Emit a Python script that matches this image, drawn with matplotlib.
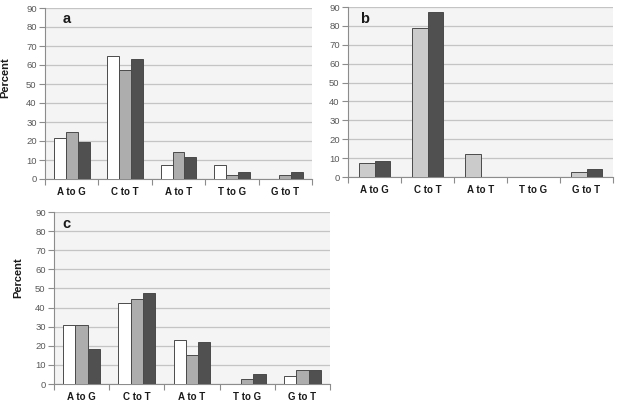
import matplotlib
matplotlib.use("Agg")
import matplotlib.pyplot as plt
import numpy as np

plt.rcParams['font.family'] = ['Liberation Sans', 'DejaVu Sans']

categories = ["A to G", "C to T", "A to T", "T to G", "G to T"]

# Panel a (three series)
a_white = [21.5, 64.5, 7.5, 7.5, 0]
a_gray = [24.5, 57.5, 14, 2.3, 2.3]
a_dark = [19.5, 63, 11.5, 3.5, 3.5]

# Panel b (two series)
b_light = [7.3, 79, 12, 0, 2.8]
b_dark = [8.7, 87.5, 0, 0, 4.3]

# Panel c (three series)
c_white = [31, 42.5, 23, 0, 4.2]
c_gray = [31, 44.5, 15, 2.5, 7.5]
c_dark = [18.5, 47.5, 22, 5.4, 7.5]

yticks = list(range(0, 91, 10))

fig = plt.figure(figsize=(6.18, 4.05), dpi=100)

def style_axes(ax, letter, lx, ly, ylab, ylab_xy):
    ax.set_facecolor('#f4f4f4')
    ax.set_ylim(0, 90)
    ax.set_xlim(-0.5, len(categories) - 0.5)
    ax.set_yticks(yticks)
    ax.yaxis.grid(True, color='#c4c4c4', linewidth=0.9)
    ax.set_axisbelow(True)
    for s in ['top', 'right']:
        ax.spines[s].set_visible(False)
    for s in ['left', 'bottom']:
        ax.spines[s].set_color('#8c8c8c')
        ax.spines[s].set_linewidth(0.8)
    ax.tick_params(axis='y', direction='out', length=4, width=0.8, color='#8c8c8c',
                   labelsize=6.8, labelcolor='#595959', pad=2)
    # category labels
    ax.set_xticks(range(len(categories)))
    ax.set_xticklabels(categories, fontsize=7, fontweight='bold', color='#1a1a1a')
    ax.tick_params(axis='x', which='major', length=0, pad=6)
    ax.set_xticks(np.arange(-0.5, len(categories), 1.0), minor=True)
    ax.tick_params(axis='x', which='minor', direction='out', length=4, width=0.8, color='#8c8c8c')
    ax.text(lx, ly, letter, transform=ax.transAxes, fontsize=10.5, fontweight='bold',
            va='baseline', ha='left', color='#1a1a1a')
    if ylab:
        ax.set_ylabel('Percent', fontsize=8, fontweight='bold', color='#1a1a1a')
        ax.yaxis.set_label_coords(*ylab_xy)

def draw_bars(ax, series, colors):
    n = len(series)
    w = 1.0 / (n + 1.5)
    x = np.arange(len(categories))
    for i, (vals, col) in enumerate(zip(series, colors)):
        offs = (i - (n - 1) / 2) * w
        vals = np.array(vals, dtype=float)
        mask = vals > 0
        ax.bar(x[mask] + offs, vals[mask], width=w, color=col, edgecolor='#4a4a4a',
               linewidth=0.7, zorder=3)

WHITE = '#ffffff'
GRAY = '#adadad'
LIGHT = '#cbcbcb'
DARK = '#505050'

ax_a = fig.add_axes([45/618, 1 - 179/405, 267/618, 171/405])
draw_bars(ax_a, [a_white, a_gray, a_dark], [WHITE, GRAY, DARK])
style_axes(ax_a, 'a', 0.065, 0.912, True, (-0.13, 0.59))

ax_b = fig.add_axes([348/618, 1 - 177/405, 265/618, 170/405])
draw_bars(ax_b, [b_light, b_dark], [LIGHT, DARK])
style_axes(ax_b, 'b', 0.045, 0.906, False, None)

ax_c = fig.add_axes([54/618, 1 - 384/405, 276/618, 172/405])
draw_bars(ax_c, [c_white, c_gray, c_dark], [WHITE, GRAY, DARK])
style_axes(ax_c, 'c', 0.03, 0.907, True, (-0.112, 0.62))

fig.savefig('out.png', dpi=100)
